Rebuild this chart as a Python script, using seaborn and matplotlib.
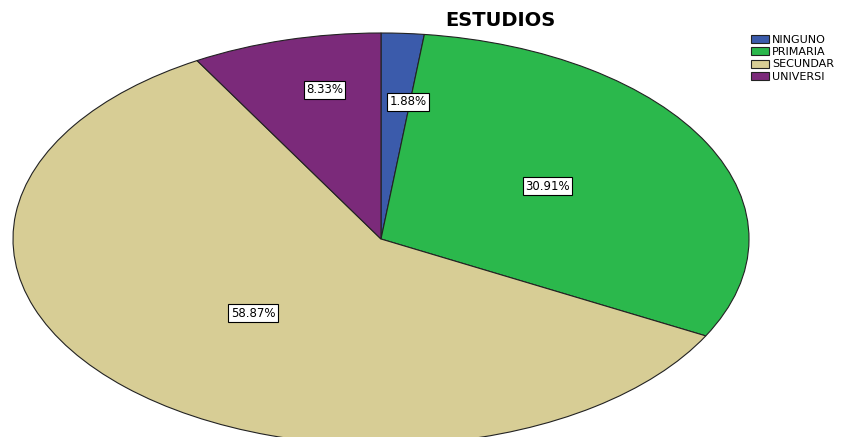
import matplotlib
matplotlib.use("Agg")
import matplotlib.pyplot as plt
import seaborn as sns
import numpy as np

categories = ["NINGUNO", "PRIMARIA", "SECUNDAR", "UNIVERSI"]
percentages = [1.88, 30.91, 58.87, 8.33]
title = "ESTUDIOS"

colors = ["#3b5bab", "#2bb84c", "#d7cd95", "#7b2a7a"]
label_radii = [0.67, 0.52, 0.50, 0.74]
label_angle_shift = [-3.0, 2.0, 0.0, -3.0]

sns.set_style("white")
plt.rcParams['font.family'] = ['DejaVu Sans']
plt.rcParams['text.color'] = 'black'

W, H = 864, 437
fig = plt.figure(figsize=(W / 100, H / 100), dpi=100)
cx, cy, rx, ry = 381, 239, 368, 206
ax = fig.add_axes([(cx - rx) / W, (H - cy - ry) / H, 2 * rx / W, 2 * ry / H])
wedges, _ = ax.pie(percentages, colors=colors, startangle=90, counterclock=False,
                   wedgeprops=dict(edgecolor="#222222", linewidth=0.8))
ax.set_aspect('auto')
ax.set_xlim(-1, 1)
ax.set_ylim(-1, 1)
ax.axis('off')

for w, val, r, s in zip(wedges, percentages, label_radii, label_angle_shift):
    ang = np.deg2rad((w.theta1 + w.theta2) / 2 + s)
    ax.text(r * np.cos(ang), r * np.sin(ang), f"{val:.2f}%", ha="center", va="center",
            fontsize=8.5, color="black",
            bbox=dict(boxstyle="square,pad=0.2", fc="white", ec="black", lw=0.8))

fig.text(500 / W, 1 - 20 / H, title, ha="center", va="center", fontsize=14,
         fontweight="bold", color="black")

leg = fig.legend(handles=wedges, labels=categories, loc="upper left",
                 bbox_to_anchor=(751 / W, 1 - 35 / H), frameon=False, fontsize=8,
                 handlelength=1.6, handleheight=0.75, handletextpad=0.3, labelspacing=0.2,
                 borderpad=0, borderaxespad=0)
for t in leg.get_texts():
    t.set_color("black")

fig.savefig("out.png", dpi=100)
